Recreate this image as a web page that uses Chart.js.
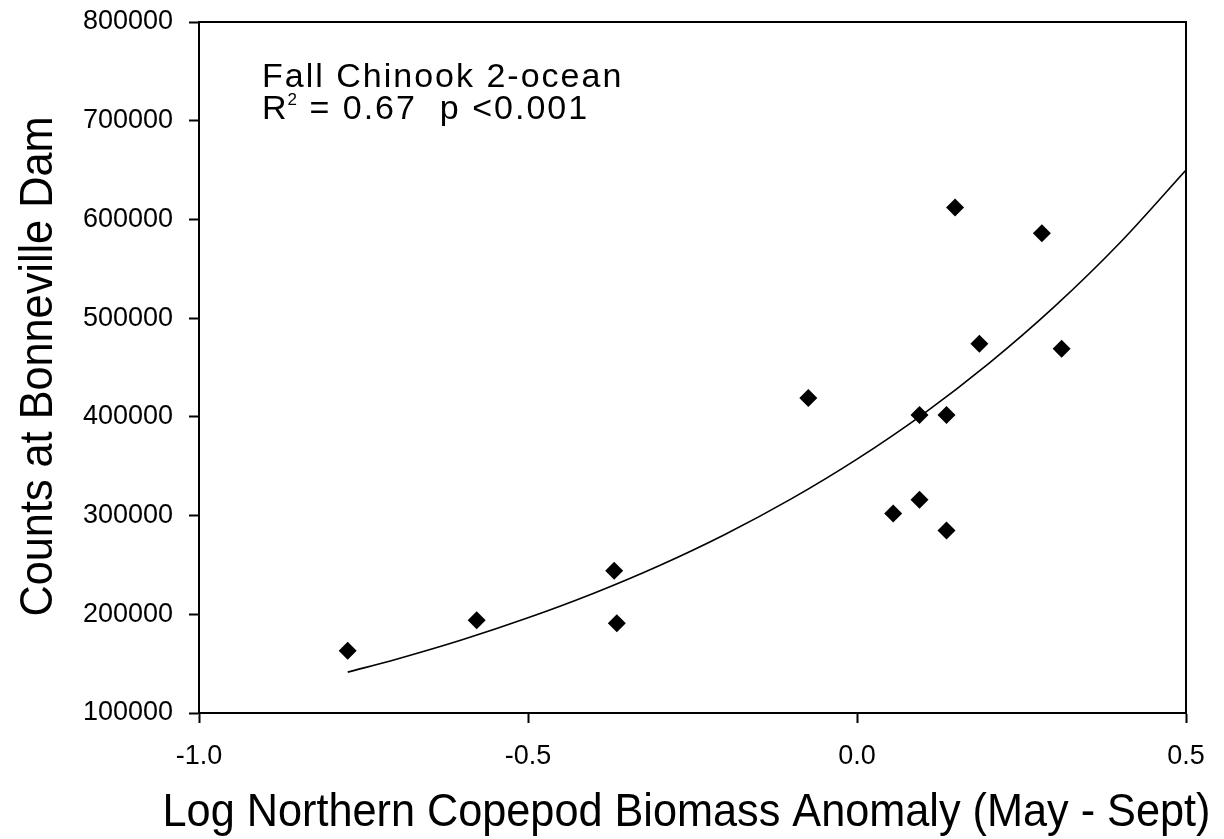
<!DOCTYPE html>
<html>
<head>
<meta charset="utf-8">
<title>Fall Chinook 2-ocean</title>
<script src="https://cdn.jsdelivr.net/npm/chart.js@4.4.0/dist/chart.umd.min.js"></script>
<style>
  body { margin: 0; background: #ffffff; }
  #wrap { width: 1224px; height: 839px; }
</style>
</head>
<body>
<div id="wrap"><canvas id="myChart" width="1224" height="839"></canvas></div>
<script>
// observed points
const anomaly = [-0.774, -0.578, -0.369, -0.365, -0.074, 0.055, 0.095, 0.095, 0.136, 0.136, 0.149, 0.186, 0.281, 0.311];
const counts = [163000, 194000, 244000, 191000, 419000, 302000, 402000, 316000, 402000, 285000, 612000, 474000, 586000, 469000];

// fitted curve
const fitX = [-0.774, -0.7, -0.6, -0.5, -0.4, -0.3, -0.2, -0.1, 0.0, 0.1, 0.2, 0.3, 0.4, 0.5];
const fitY = [141400, 154500, 174200, 196400, 221300, 249400, 281100, 316900, 357200, 402600, 453900, 511600, 576600, 650000];

const xTicks = [-1.0, -0.5, 0.0, 0.5];
const yTicks = [100000, 200000, 300000, 400000, 500000, 600000, 700000, 800000];

const xTitle = "Log Northern Copepod Biomass Anomaly (May - Sept)";
const yTitle = "Counts at Bonneville Dam";
const noteLine1 = "Fall Chinook 2-ocean";

const FONT = "'Liberation Sans', Arial, sans-serif";

// box round the plot, axis titles (slightly condensed) and the annotation
const framePlugin = {
  id: "frame",
  afterDraw(chart) {
    const c = chart.ctx;
    const a = chart.chartArea;
    c.save();
    c.strokeStyle = "#000";
    c.lineWidth = 2;
    c.beginPath();
    c.moveTo(a.left, a.top);
    c.lineTo(a.right, a.top);
    c.lineTo(a.right, a.bottom);
    c.stroke();

    c.fillStyle = "#000";
    c.textBaseline = "alphabetic";

    // axis titles
    c.font = "46px " + FONT;
    c.textAlign = "center";
    c.save();
    c.translate((a.left + a.right) / 2 - 6, a.bottom + 113);
    c.scale(0.94, 1);
    c.fillText(xTitle, 0, 0);
    c.restore();

    c.save();
    c.translate(a.left - 147, (a.top + a.bottom) / 2 - 1);
    c.rotate(-Math.PI / 2);
    c.scale(0.94, 1);
    c.fillText(yTitle, 0, 0);
    c.restore();

    // annotation
    c.textAlign = "left";
    c.font = "34px " + FONT;
    c.letterSpacing = "2px";
    let x = a.left + 63;
    c.fillText(noteLine1, x, a.top + 65);
    let y2 = a.top + 97;
    c.fillText("R", x, y2);
    x += c.measureText("R").width;
    c.font = "17px " + FONT;
    c.letterSpacing = "0px";
    c.fillText("2", x - 1, y2 - 14);
    x += c.measureText("2").width;
    c.font = "34px " + FONT;
    c.letterSpacing = "2px";
    c.fillText(" = 0.67  p <0.001", x, y2);
    c.restore();
  }
};

let ctx = document.getElementById("myChart").getContext("2d");
let myChart = new Chart(ctx, {
  type: "scatter",
  data: {
    datasets: [
      {
        label: "observed",
        data: anomaly.map((v, i) => ({ x: v, y: counts[i] })),
        pointStyle: "rectRot",
        pointRadius: 9,
        pointHoverRadius: 9,
        backgroundColor: "#000",
        borderColor: "#000",
        borderWidth: 0
      },
      {
        label: "fit",
        type: "line",
        data: fitX.map((v, i) => ({ x: v, y: fitY[i] })),
        borderColor: "#000",
        borderWidth: 1.6,
        pointRadius: 0,
        tension: 0.4,
        cubicInterpolationMode: "monotone",
        fill: false
      }
    ]
  },
  options: {
    responsive: false,
    animation: false,
    layout: { padding: { top: 22, right: 38, left: 0, bottom: 0 } },
    plugins: {
      legend: { display: false },
      tooltip: { enabled: false }
    },
    scales: {
      x: {
        type: "linear",
        min: -1.0,
        max: 0.5,
        afterBuildTicks: (s) => { s.ticks = xTicks.map(v => ({ value: v })); },
        afterFit: (s) => { s.height = 126; s.paddingLeft = 0; s.paddingRight = 0; },
        ticks: {
          callback: (v) => Number(v).toFixed(1),
          color: "#000",
          font: { family: FONT, size: 27 },
          padding: 17,
          maxRotation: 0
        },
        grid: { drawOnChartArea: false, tickLength: 10, color: "#000", tickWidth: 2 },
        border: { display: true, color: "#000", width: 2 },
        title: { display: false }
      },
      y: {
        type: "linear",
        min: 100000,
        max: 800000,
        afterBuildTicks: (s) => { s.ticks = yTicks.map(v => ({ value: v })); },
        afterFit: (s) => { s.width = 199; s.paddingTop = 0; s.paddingBottom = 0; },
        ticks: {
          callback: (v) => String(v),
          color: "#000",
          font: { family: FONT, size: 27 },
          padding: 16
        },
        grid: { drawOnChartArea: false, tickLength: 10, color: "#000", tickWidth: 2 },
        border: { display: true, color: "#000", width: 2 },
        title: { display: false }
      }
    }
  },
  plugins: [framePlugin]
});
</script>
</body>
</html>
